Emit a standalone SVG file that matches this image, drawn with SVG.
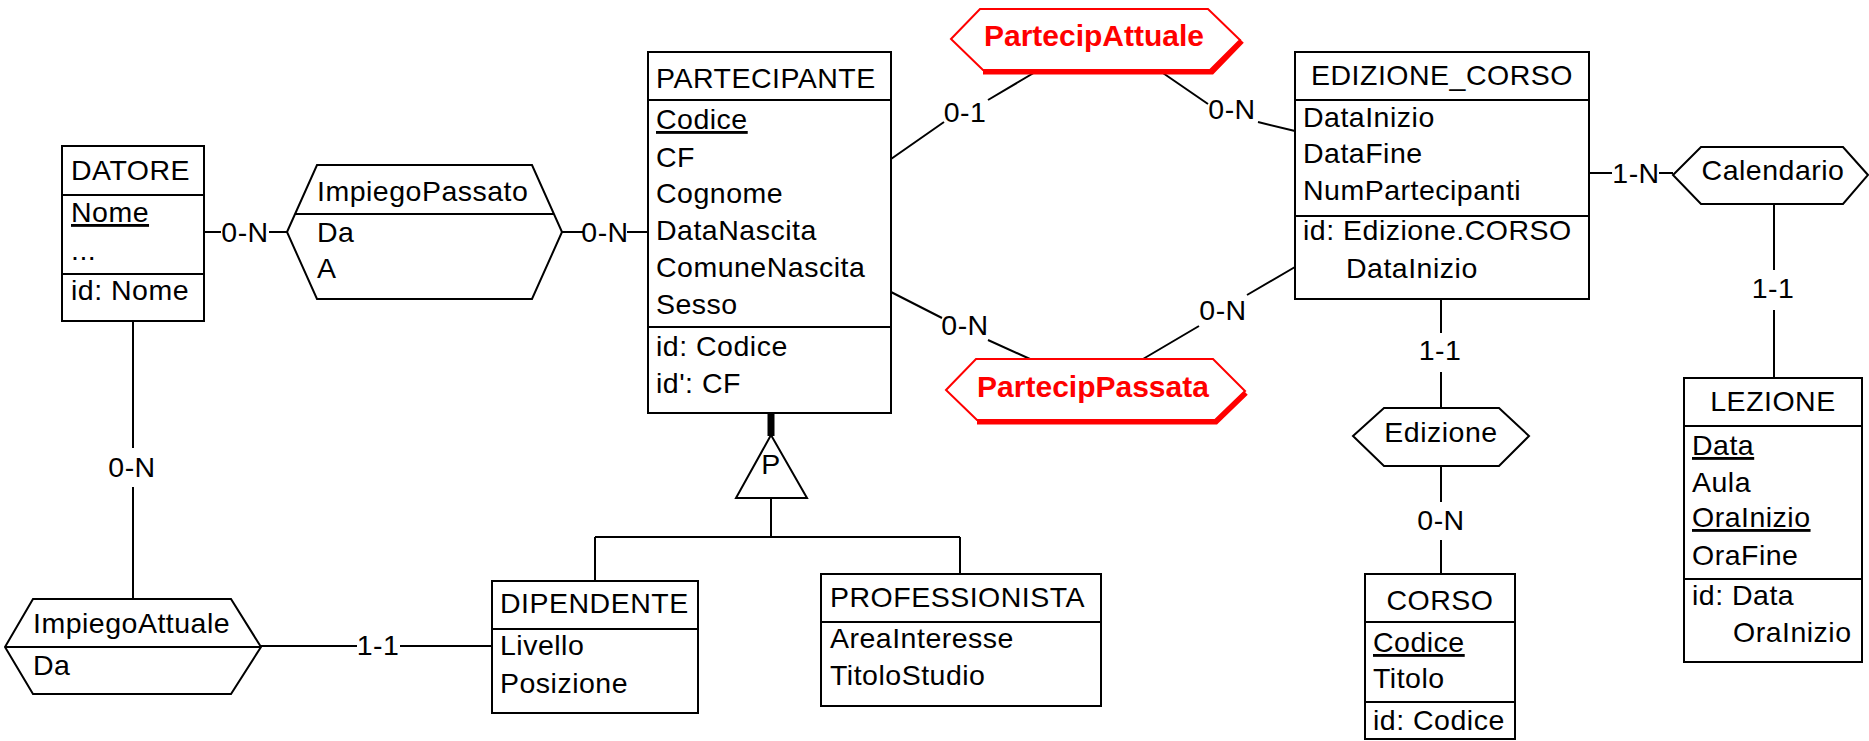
<svg xmlns="http://www.w3.org/2000/svg" width="1869" height="741" viewBox="0 0 1869 741">
<style>
.bx{fill:#fff;stroke:#000;stroke-width:2}
.ln{fill:none;stroke:#000;stroke-width:2}
.t{font-family:"Liberation Sans",Arial,sans-serif;font-size:28.5px;letter-spacing:0.5px;fill:#000}
.m{text-anchor:middle}
.u{text-decoration:underline}
.rh{fill:#fff;stroke:#f00;stroke-width:2}
.rs{fill:none;stroke:#f00;stroke-width:5;stroke-linejoin:miter}
.rt{font-family:"Liberation Sans",Arial,sans-serif;font-size:30px;font-weight:bold;fill:#f00;text-anchor:middle}
</style>
<rect width="1869" height="741" fill="#fff"/>
<g id="connectors">
<path class="ln" d="M204,232H221M269,232H287"/>
<text class="t m" x="245" y="242">0-N</text>
<path class="ln" d="M562,232H583M627,232H648"/>
<text class="t m" x="605" y="242">0-N</text>
<path class="ln" d="M891,159L944,122M988,100L1037,71"/>
<text class="t m" x="965" y="122">0-1</text>
<path class="ln" d="M1160,71L1208,104M1258,122L1295,131"/>
<text class="t m" x="1232" y="119">0-N</text>
<path class="ln" d="M891,292L942,318M988,340L1030,359"/>
<text class="t m" x="965" y="335">0-N</text>
<path class="ln" d="M1143,359L1199,326M1247,295L1295,267"/>
<text class="t m" x="1223" y="320">0-N</text>
<path class="ln" d="M1589,173H1612M1659,173H1673"/>
<text class="t m" x="1636" y="183">1-N</text>
<path class="ln" d="M1774,204V270M1774,310V378"/>
<text class="t m" x="1773" y="298">1-1</text>
<path class="ln" d="M1441,299V333M1441,372V408"/>
<text class="t m" x="1440" y="360">1-1</text>
<path class="ln" d="M1441,466V502M1441,540V574"/>
<text class="t m" x="1441" y="530">0-N</text>
<path class="ln" d="M133,321V448M133,487V599"/>
<text class="t m" x="132" y="477">0-N</text>
<path class="ln" d="M261,646H357M400,646H492"/>
<text class="t m" x="378" y="655">1-1</text>
<path class="ln" d="M771,413V436" style="stroke-width:7"/>
<path class="ln" d="M771,498V537M595,537H960M595,537V581M960,537V574"/>
</g>
<g id="isa">
<polygon class="bx" points="771,435 736,498 807,498"/>
<text class="t m" x="771" y="474">P</text>
</g>
<g id="DATORE">
<rect class="bx" x="62" y="146" width="142" height="175"/>
<path class="ln" d="M62,195H204M62,274H204"/>
<text class="t" x="71" y="180">DATORE</text>
<text class="t u" x="71" y="222">Nome</text>
<text class="t" x="71" y="260">...</text>
<text class="t" x="71" y="300">id: Nome</text>
</g>
<g id="ImpiegoPassato">
<polygon class="bx" points="287,232 317,165 532,165 562,232 532,299 317,299"/>
<path class="ln" d="M295,214H554"/>
<text class="t" x="317" y="201">ImpiegoPassato</text>
<text class="t" x="317" y="242">Da</text>
<text class="t" x="317" y="278">A</text>
</g>
<g id="PARTECIPANTE">
<rect class="bx" x="648" y="52" width="243" height="361"/>
<path class="ln" d="M648,100H891M648,327H891"/>
<text class="t" x="656" y="88">PARTECIPANTE</text>
<text class="t u" x="656" y="129">Codice</text>
<text class="t" x="656" y="167">CF</text>
<text class="t" x="656" y="203">Cognome</text>
<text class="t" x="656" y="240">DataNascita</text>
<text class="t" x="656" y="277">ComuneNascita</text>
<text class="t" x="656" y="314">Sesso</text>
<text class="t" x="656" y="356">id: Codice</text>
<text class="t" x="656" y="393">id': CF</text>
</g>
<g id="PartecipAttuale">
<polyline class="rs" points="983,72 1212,72 1242,41"/>
<polygon class="rh" points="951,39 980,9 1208,9 1240,40 1210,70 983,70"/>
<text class="rt" x="1094" y="46">PartecipAttuale</text>
</g>
<g id="PartecipPassata">
<polyline class="rs" points="977,422 1216,422 1246,393"/>
<polygon class="rh" points="946,390 976,359 1213,359 1245,391 1215,420 977,420"/>
<text class="rt" x="1093" y="397">PartecipPassata</text>
</g>
<g id="EDIZIONE_CORSO">
<rect class="bx" x="1295" y="52" width="294" height="247"/>
<path class="ln" d="M1295,100H1589M1295,216H1589"/>
<text class="t m" x="1442" y="85">EDIZIONE_CORSO</text>
<text class="t" x="1303" y="127">DataInizio</text>
<text class="t" x="1303" y="163">DataFine</text>
<text class="t" x="1303" y="200">NumPartecipanti</text>
<text class="t" x="1303" y="240">id: Edizione.CORSO</text>
<text class="t" x="1346" y="278">DataInizio</text>
</g>
<g id="Calendario">
<polygon class="bx" points="1673,175 1701,147 1843,147 1868,175 1843,204 1701,204"/>
<text class="t m" x="1773" y="180">Calendario</text>
</g>
<g id="LEZIONE">
<rect class="bx" x="1684" y="378" width="178" height="284"/>
<path class="ln" d="M1684,426H1862M1684,579H1862"/>
<text class="t m" x="1773" y="411">LEZIONE</text>
<text class="t u" x="1692" y="455">Data</text>
<text class="t" x="1692" y="492">Aula</text>
<text class="t u" x="1692" y="527">OraInizio</text>
<text class="t" x="1692" y="565">OraFine</text>
<text class="t" x="1692" y="605">id: Data</text>
<text class="t" x="1733" y="642">OraInizio</text>
</g>
<g id="Edizione">
<polygon class="bx" points="1353,436 1384,408 1499,408 1529,436 1499,466 1384,466"/>
<text class="t m" x="1441" y="442">Edizione</text>
</g>
<g id="CORSO">
<rect class="bx" x="1365" y="574" width="150" height="165"/>
<path class="ln" d="M1365,622H1515M1365,702H1515"/>
<text class="t m" x="1440" y="610">CORSO</text>
<text class="t u" x="1373" y="652">Codice</text>
<text class="t" x="1373" y="688">Titolo</text>
<text class="t" x="1373" y="730">id: Codice</text>
</g>
<g id="ImpiegoAttuale">
<polygon class="bx" points="5,647 33,599 231,599 261,647 231,694 33,694"/>
<path class="ln" d="M5,647H261"/>
<text class="t" x="33" y="633">ImpiegoAttuale</text>
<text class="t" x="33" y="675">Da</text>
</g>
<g id="DIPENDENTE">
<rect class="bx" x="492" y="581" width="206" height="132"/>
<path class="ln" d="M492,629H698"/>
<text class="t" x="500" y="613">DIPENDENTE</text>
<text class="t" x="500" y="655">Livello</text>
<text class="t" x="500" y="693">Posizione</text>
</g>
<g id="PROFESSIONISTA">
<rect class="bx" x="821" y="574" width="280" height="132"/>
<path class="ln" d="M821,622H1101"/>
<text class="t" x="830" y="607">PROFESSIONISTA</text>
<text class="t" x="830" y="648">AreaInteresse</text>
<text class="t" x="830" y="685">TitoloStudio</text>
</g>
</svg>
